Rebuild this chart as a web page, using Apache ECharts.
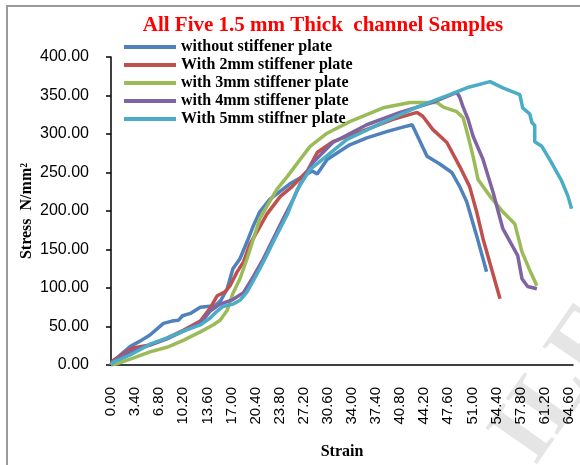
<!DOCTYPE html>
<html>
<head>
<meta charset="utf-8">
<script src="https://cdn.jsdelivr.net/npm/echarts@6/dist/echarts.min.js"></script>
<style>
  html, body { margin: 0; padding: 0; background: #fff; }
  #chart { width: 580px; height: 465px; }
</style>
</head>
<body>
<div id="chart"></div>
<script>
const seriesNames = [
  "without stiffener plate",
  "With 2mm stiffener plate",
  "with 3mm stiffener plate",
  "with 4mm stiffener plate",
  "With 5mm stiffner plate"
];
const colors = ["#4F81BD", "#C0504D", "#9BBB59", "#8064A2", "#4BACC6"];

// strain / stress
const strain0 = [0, 1.3, 2.7, 4.1, 5.5, 7.4, 8.6, 9.5, 10.1, 11.2, 12.6, 13.6, 14.7, 15.5, 16.4, 17.2, 18.2, 19.2, 20.1, 21.0, 22.4, 25.2, 28.4, 29.1, 30.5, 33.7, 36.1, 38.9, 40.8, 42.5, 44.6, 46.4, 48.1, 49.2, 50.2, 51.6, 53.0];
const stress0 = [2, 13, 24, 31, 39, 54, 57, 58, 64, 67, 75, 76, 77, 84, 99, 125, 138, 160, 181, 199, 215, 235, 252, 248, 267, 286, 295, 303, 308, 312, 271, 261, 250, 232, 212, 168, 121];

const strain1 = [0, 0.3, 3.1, 5.5, 7.9, 10.2, 12.6, 14.0, 15.0, 16.1, 16.8, 17.8, 18.7, 19.6, 20.6, 22.0, 23.9, 25.6, 27.7, 29.1, 31.3, 36.1, 39.8, 43.2, 44.0, 45.4, 47.4, 49.2, 50.6, 51.6, 52.5, 53.7, 54.9];
const stress1 = [0, 6, 22, 26, 35, 45, 57, 74, 90, 95, 103, 121, 134, 157, 173, 196, 219, 232, 252, 276, 290, 306, 319, 328, 323, 306, 289, 258, 232, 199, 164, 125, 86];

const strain2 = [0, 1.0, 3.1, 5.5, 7.9, 10.2, 12.6, 14.4, 15.4, 16.4, 17.2, 18.2, 19.2, 20.1, 21.0, 22.0, 23.4, 24.9, 26.7, 28.1, 30.5, 33.7, 38.4, 42.2, 46.0, 46.9, 48.8, 49.7, 50.4, 51.1, 51.8, 53.5, 55.3, 57.0, 58.0, 59.1, 60.1];
const stress2 = [0, 2, 9, 17, 23, 32, 43, 52, 58, 71, 93, 112, 138, 164, 190, 206, 228, 245, 267, 284, 301, 316, 334, 341, 341, 335, 329, 321, 297, 271, 241, 219, 199, 183, 147, 123, 103];

const strain3 = [0, 0.3, 2.3, 5.5, 7.9, 10.2, 12.6, 14.0, 15.4, 17.2, 18.7, 20.1, 21.5, 22.9, 24.3, 25.7, 26.7, 28.5, 31.3, 36.1, 40.8, 45.4, 48.8, 49.2, 49.7, 50.4, 51.1, 52.5, 53.9, 55.3, 57.4, 58.0, 58.8, 60.1];
const stress3 = [0, 5, 15, 26, 34, 44, 54, 70, 79, 85, 94, 115, 138, 164, 190, 215, 235, 263, 289, 312, 328, 341, 354, 348, 335, 319, 297, 267, 225, 177, 142, 112, 102, 99];

const strain4 = [0, 0.2, 2.7, 5.5, 7.9, 10.2, 12.6, 14.0, 15.0, 15.8, 17.2, 18.2, 19.2, 20.1, 21.0, 22.0, 22.9, 23.9, 24.9, 26.3, 28.1, 30.5, 33.3, 38.4, 43.2, 47.8, 50.2, 53.5, 55.3, 57.7, 58.1, 59.1, 59.4, 59.8, 59.8, 60.8, 61.9, 63.6, 64.5, 65.0];
const stress4 = [0, 3, 13, 27, 35, 44, 52, 61, 70, 76, 79, 84, 95, 110, 125, 143, 160, 178, 196, 228, 254, 272, 293, 315, 335, 351, 360, 368, 360, 351, 334, 326, 315, 311, 290, 284, 267, 239, 219, 203];

const strains = [strain0, strain1, strain2, strain3, strain4];
const stresses = [stress0, stress1, stress2, stress3, stress4];

const serif = "'Liberation Serif', 'Times New Roman', serif";
const sans = "'Liberation Sans', Arial, sans-serif";

const chart = echarts.init(document.getElementById("chart"));

const option = {
  animation: false,
  backgroundColor: "#fff",
  title: {
    text: "All Five 1.5 mm Thick  channel Samples",
    left: 318,
    textAlign: "center",
    top: 10,
    textStyle: { color: "#FF0000", fontFamily: serif, fontWeight: "bold", fontSize: 21 }
  },
  legend: {
    orient: "vertical",
    left: 119,
    top: 34,
    itemWidth: 52,
    itemHeight: 4,
    itemGap: 2,
    icon: "rect",
    textStyle: { color: "#000", fontFamily: serif, fontWeight: "bold", fontSize: 16, lineHeight: 14 },
    data: seriesNames
  },
  grid: { left: 111, right: 7, top: 57, bottom: 98 },
  xAxis: {
    type: "value",
    min: 0,
    max: 65.2,
    interval: 3.4,
    name: "Strain",
    nameLocation: "middle",
    nameGap: 79,
    nameMoveOverlap: false,
    nameTextStyle: { color: "#000", fontFamily: serif, fontWeight: "bold", fontSize: 16 },
    axisLine: { lineStyle: { color: "#000", width: 1.5 } },
    axisTick: { show: false },
    splitLine: { show: false },
    axisLabel: {
      rotate: 90,
      margin: 22,
      showMaxLabel: false,
      color: "#000",
      fontFamily: sans,
      fontSize: 15,
      formatter: v => v.toFixed(2)
    }
  },
  yAxis: {
    type: "value",
    min: 0,
    max: 400,
    interval: 50,
    name: "Stress  N/mm²",
    nameLocation: "middle",
    nameGap: 76,
    nameMoveOverlap: false,
    nameTextStyle: { color: "#000", fontFamily: serif, fontWeight: "bold", fontSize: 16 },
    axisLine: { show: true, lineStyle: { color: "#000", width: 1.5 } },
    axisTick: { show: true, length: 5, lineStyle: { color: "#000", width: 1.5 } },
    splitLine: { show: false },
    axisLabel: {
      margin: 22,
      padding: [0, 0, 12, 0],
      color: "#000",
      fontFamily: sans,
      fontSize: 16,
      formatter: v => v.toFixed(2)
    }
  },
  graphic: [
    {
      type: "rect",
      shape: { x: 7, y: 6, width: 700, height: 700 },
      style: { fill: "none", stroke: "#9a9a9a", lineWidth: 2 },
      silent: true
    },
    {
      type: "text",
      x: 562,
      y: 385,
      rotation: 0.96,
      silent: true,
      style: {
        text: "ILE",
        fill: "rgba(0,0,0,0.10)",
        font: "bold 96px " + serif,
        align: "center",
        verticalAlign: "middle"
      }
    }
  ],
  series: seriesNames.map((name, i) => ({
    name: name,
    type: "line",
    showSymbol: false,
    symbol: "none",
    color: colors[i],
    lineStyle: { width: 3.5, color: colors[i] },
    data: strains[i].map((s, k) => [s, stresses[i][k]])
  }))
};

chart.setOption(option);
</script>
</body>
</html>
